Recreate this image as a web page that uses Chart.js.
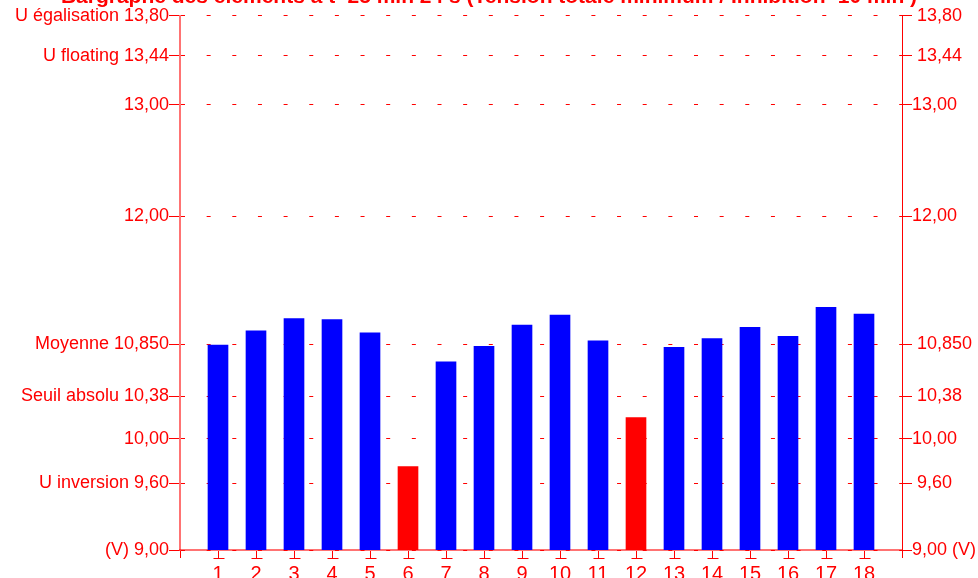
<!DOCTYPE html>
<html>
<head>
<meta charset="utf-8">
<script src="https://cdn.jsdelivr.net/npm/chart.js@4/dist/chart.umd.min.js"></script>
<style>
  html, body { margin: 0; padding: 0; background: #fff; }
  #wrap { width: 978px; height: 578px; }
</style>
</head>
<body>
<div id="wrap"><canvas id="myChart" width="978" height="578"></canvas></div>
<script>
// element numbers (empty slots at both ends of the axis)
const elements = ['', '1', '2', '3', '4', '5', '6', '7', '8', '9', '10', '11', '12', '13', '14', '15', '16', '17', '18', ''];
// voltage of each element (V)
const voltages = [null, 10.84, 10.97, 11.08, 11.07, 10.95, 9.75, 10.69, 10.83, 11.02, 11.11, 10.88, 10.19, 10.82, 10.90, 11.00, 10.92, 11.18, 11.12, null];
// y tick values and their labels
const tickValues = [9.00, 9.60, 10.00, 10.38, 10.85, 12.00, 13.00, 13.44, 13.80];
const leftLabels = ['(V) 9,00', 'U inversion 9,60', '10,00', 'Seuil absolu 10,38', 'Moyenne 10,850', '12,00', '13,00', 'U floating 13,44', 'U égalisation 13,80'];
const rightLabels = ['9,00 (V)', ' 9,60', '10,00', ' 10,38', ' 10,850', '12,00', '13,00', ' 13,44', ' 13,80'];
const seuilAbsolu = 10.38;

const RED = '#ff0000';
Chart.defaults.font.family = '"Liberation Sans", Arial, sans-serif';
Chart.defaults.font.size = 18;
Chart.defaults.color = RED;

const setTicks = scale => {
    scale.ticks = tickValues.map(v => ({ value: v }));
};

// little horizontal bar under each element tick
const tickFeet = {
    id: 'tickFeet',
    afterDraw(chart) {
        const x = chart.scales.x;
        const c = chart.ctx;
        c.save();
        c.strokeStyle = RED;
        c.lineWidth = 1;
        c.beginPath();
        for (let i = 1; i < elements.length - 1; i++) {
            const px = Math.round(x.getPixelForValue(i)) + 0.5;
            c.moveTo(px - 5, x.top + 8.5);
            c.lineTo(px + 6, x.top + 8.5);
        }
        c.stroke();
        c.restore();
    }
};

const ctx = document.getElementById('myChart').getContext('2d');
const myChart = new Chart(ctx, {
    type: 'bar',
    data: {
        labels: elements,
        datasets: [{
            data: voltages,
            backgroundColor: voltages.map(v => (v !== null && v < seuilAbsolu) ? '#ff0000' : '#0000ff'),
            barThickness: 20,
            borderWidth: 0
        }]
    },
    options: {
        responsive: false,
        animation: false,
        layout: { padding: 0 },
        plugins: {
            legend: { display: false },
            tooltip: { enabled: false },
            title: {
                display: true,
                text: 'Bargraphe des éléments à t=25 min 24 s (Tension totale minimum / Inhibition=10 min )',
                color: RED,
                font: { size: 21, weight: 'bold' },
                padding: { top: -15, bottom: 5.5 }
            }
        },
        scales: {
            x: {
                type: 'category',
                offset: false,
                grid: { offset: false, drawOnChartArea: false, drawTicks: true, tickLength: 8, color: RED },
                border: { color: 'rgba(255,0,0,0.55)', width: 2 },
                ticks: { color: RED, autoSkip: false, maxRotation: 0, padding: 4, font: { size: 20 } },
                afterFit: s => { s.height = 28; }
            },
            y: {
                position: 'left',
                min: 9,
                max: 13.8,
                afterBuildTicks: setTicks,
                grid: { color: RED, lineWidth: 1, tickLength: 11, drawTicks: true },
                border: { color: 'rgba(255,0,0,0.55)', width: 2, dash: [4, 21.65] },
                ticks: {
                    color: RED,
                    padding: 0,
                    callback: v => leftLabels[tickValues.indexOf(v)]
                },
                afterFit: s => { s.width = 180; }
            },
            y2: {
                position: 'right',
                min: 9,
                max: 13.8,
                afterBuildTicks: setTicks,
                grid: { drawOnChartArea: false, color: RED, tickLength: 10 },
                border: { color: RED, width: 1 },
                ticks: {
                    color: RED,
                    padding: 0,
                    callback: v => rightLabels[tickValues.indexOf(v)]
                },
                afterFit: s => { s.width = 76; }
            }
        }
    },
    plugins: [tickFeet]
});
</script>
</body>
</html>
